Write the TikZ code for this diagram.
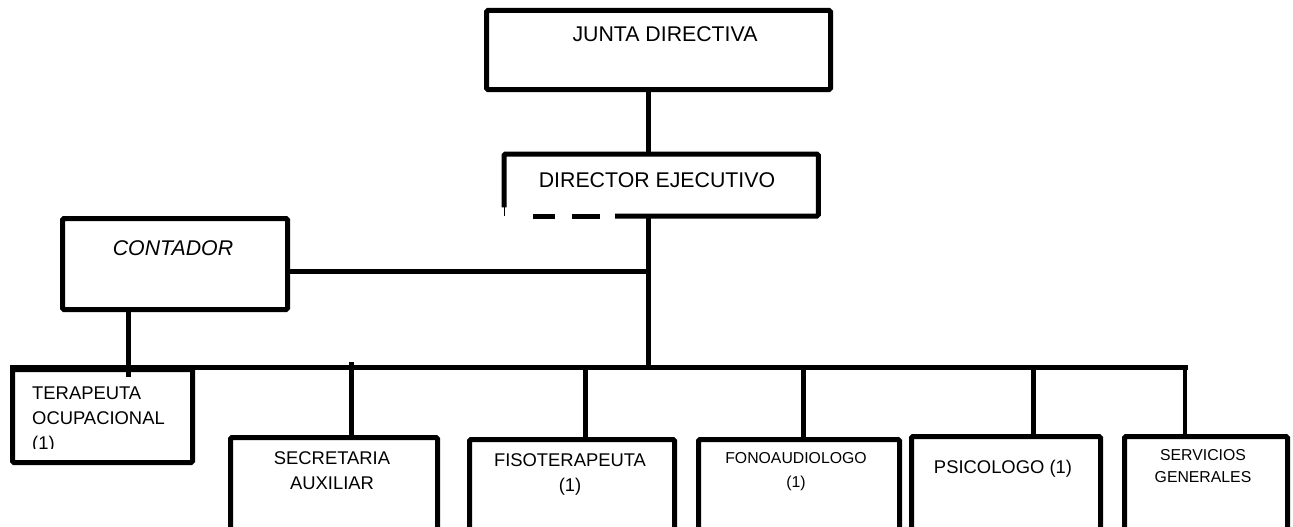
\documentclass[tikz,border=0pt]{standalone}
\usepackage{fontspec}
\setmainfont{Liberation Sans}
\usetikzlibrary{calc}
\begin{document}
\begin{tikzpicture}[x=1pt,y=-1pt,
  box/.style={draw=black,line width=5pt,rounded corners=1.5pt,inner sep=0pt,anchor=north west},
  conn/.style={draw=black,line width=5pt},
  bigtxt/.style={font=\fontsize{21.3}{25}\selectfont,inner sep=0pt,anchor=base,text=black},
  midtxt/.style={font=\fontsize{18.4}{24.5}\selectfont,inner sep=0pt,anchor=base,text=black},
  smalltxt/.style={font=\fontsize{15.8}{22}\selectfont,inner sep=0pt,anchor=base,text=black}]
\useasboundingbox (0,0) rectangle (1293,527);
\clip (0,0) rectangle (1293,527);
\fill[white] (0,0) rectangle (1293,527);

% boxes
\node[box,minimum width=344pt,minimum height=79pt] (junta) at (484,8) {};
\node[inner sep=0pt,anchor=north west,minimum width=314pt,minimum height=62pt] (dir) at (504,154) {};
\node[box,minimum width=225pt,minimum height=91pt] (cont) at (60,216) {};
\node[box,minimum width=180pt,minimum height=93pt] (tera) at (10,367) {};
\node[box,minimum width=207pt,minimum height=105pt] (sec) at (228,435) {};
\node[box,minimum width=205pt,minimum height=103pt] (fiso) at (467,437) {};
\node[box,minimum width=201pt,minimum height=103pt] (fono) at (696,437) {};
\node[box,minimum width=189pt,minimum height=106pt] (psico) at (909,434) {};
\node[box,minimum width=163pt,minimum height=106pt] (serv) at (1122,434) {};

% director outline (open, with dashed lower left)
\draw[conn,rounded corners=1.5pt] (dir.south west) ++(0,-9) |- (dir.north east) |- (615,216);
\draw[conn] (533,216) -- (555,216);
\draw[conn] (572,216) -- (600,216);
\draw[black,line width=1pt] (dir.south west) ++(0,-9) -- (dir.south west);

% connector coordinates
\coordinate (trunk) at (648,0);
\coordinate (hline) at (0,271);
\coordinate (busL) at (10,367);
\coordinate (busR) at (1188,367);
\coordinate (ccont) at (128,0);
\coordinate (cbot) at (0,377);
\coordinate (csec) at (351,362);
\coordinate (cfiso) at (585,367);
\coordinate (cfono) at (803,370);
\coordinate (cpsico) at (1033,370);
\coordinate (cserv) at (1185,367);

% connectors
\draw[conn] (junta.south -| trunk) -- (dir.north -| trunk);
\draw[conn] (dir.south -| trunk) -- (busL -| trunk);
\draw[conn] (cont.east |- hline) -- (hline -| trunk);
\draw[conn] (busL) -- (busR);
\draw[conn] (cont.south -| ccont) -- (cbot -| ccont);
\draw[conn] (csec) -- (csec |- sec.north);
\draw[conn] (cfiso) -- (cfiso |- fiso.north);
\draw[conn] (cfono) -- (cfono |- fono.north);
\draw[conn] (cpsico) -- (cpsico |- psico.north);
\draw[conn,line width=4pt] (cserv) -- (cserv |- serv.north);

% texts
\node[bigtxt] (tjunta) at (665,41.6) {JUNTA DIRECTIVA};
\node[bigtxt] (tdir) at (657,187.6) {DIRECTOR EJECUTIVO};
\node[bigtxt,font=\fontsize{21.3}{25}\selectfont\itshape] (tcont) at (173,255.6) {CONTADOR};
\node[midtxt,anchor=base west] (tera1) at (32,399.6) {TERAPEUTA};
\node[midtxt,anchor=base west] (tera2) at (32,424) {OCUPACIONAL};
\begin{scope}
\clip (20,420) rectangle (185,448);
\node[midtxt,anchor=base west] (tera3) at (32,449) {(1)};
\end{scope}
\node[midtxt] (tsec1) at (332,464.6) {SECRETARIA};
\node[midtxt] (tsec2) at (332,489.6) {AUXILIAR};
\node[midtxt] (tfiso1) at (570,466.6) {FISOTERAPEUTA};
\node[midtxt] (tfiso2) at (570,491) {(1)};
\node[smalltxt] (tfono1) at (796,463.7) {FONOAUDIOLOGO};
\node[smalltxt] (tfono2) at (796,487.7) {(1)};
\node[midtxt] (tpsico) at (1003,473.6) {PSICOLOGO (1)};
\node[smalltxt] (tserv1) at (1203,460.7) {SERVICIOS};
\node[smalltxt] (tserv2) at (1203,482.7) {GENERALES};
\end{tikzpicture}
\end{document}
